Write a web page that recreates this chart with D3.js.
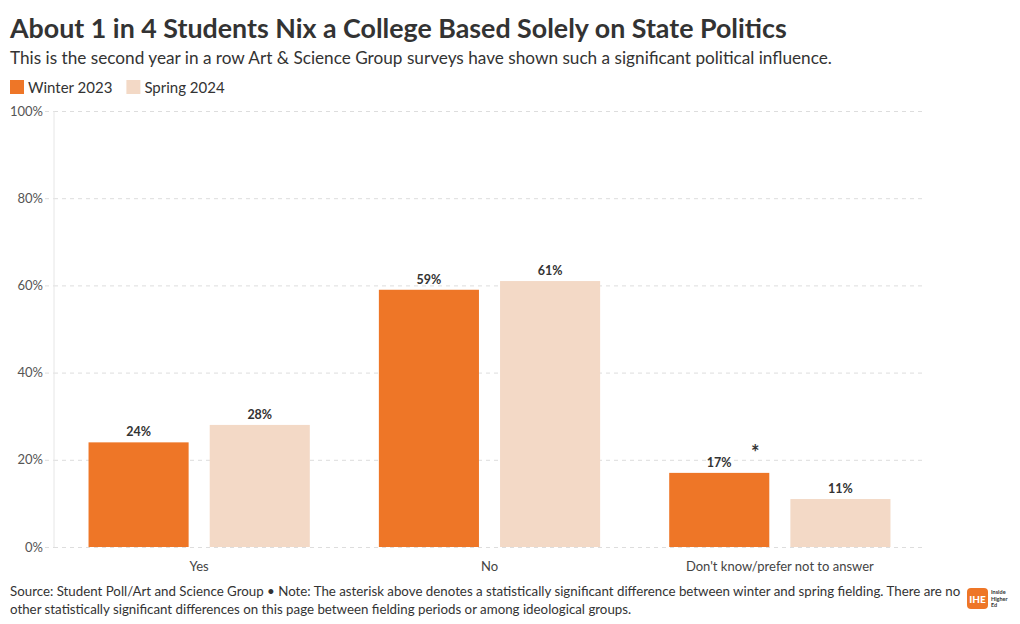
<!DOCTYPE html>
<html><head><meta charset="utf-8">
<script src="https://cdn.jsdelivr.net/npm/d3@7"></script>
<style>
body{margin:0;background:#fff;}
svg{font-family:Lato,"Noto Sans",sans-serif;}
</style></head>
<body><svg id="c" width="1020" height="624"></svg>
<script>
const categories = ["Yes", "No", "Don't know/prefer not to answer"];
const seriesNames = ["Winter 2023", "Spring 2024"];
const winter2023 = [24, 59, 17];
const spring2024 = [28, 61, 11];
const yTicks = [0, 20, 40, 60, 80, 100];
const significant = [false, false, true]; // asterisk on winter bar
const colors = ["#EE7627", "#F3D9C6"];

const svg = d3.select("#c");
const W = 1020, H = 624;
const m = {left: 54, right: 95, top: 111, bottom: 77};

const x0 = d3.scaleBand().domain(categories).range([m.left, W - m.right]).padding(0);
const x1 = d3.scaleBand().domain(seriesNames).range([0, x0.bandwidth()]).paddingInner(0.174).paddingOuter(0.285);
const y = d3.scaleLinear().domain([0, 100]).range([H - m.bottom, m.top]);

// title
svg.append("text").attr("x", 10).attr("y", 38).attr("font-size", 26.8).attr("font-weight", 700).attr("fill", "#333")
  .text("About 1 in 4 Students Nix a College Based Solely on State Politics");
svg.append("text").attr("x", 10).attr("y", 64).attr("font-size", 17.2).attr("fill", "#333")
  .text("This is the second year in a row Art & Science Group surveys have shown such a significant political influence.");

// legend
const leg = svg.append("g");
let lx = 10;
seriesNames.forEach((s, i) => {
  const g = leg.append("g").attr("transform", `translate(${lx},80)`);
  g.append("rect").attr("width", 14).attr("height", 14).attr("fill", colors[i]);
  const t = g.append("text").attr("x", 18).attr("y", 12.5).attr("font-size", 15).attr("fill", "#333").text(s);
  lx += 18 + t.node().getComputedTextLength() + 14;
});

// grid + y axis
const yAxis = svg.append("g").attr("transform", `translate(${m.left},0)`)
  .call(d3.axisLeft(y).tickValues(yTicks).tickFormat(d => d + "%").tickSize(-(W - m.right - m.left)).tickPadding(11));
yAxis.select(".domain").remove();
yAxis.selectAll(".tick line").attr("stroke", "#ddd").attr("stroke-dasharray", "4,4");
yAxis.selectAll(".tick text").attr("font-size", 13).attr("fill", "#555").attr("font-family", "Lato,sans-serif");
yAxis.selectAll(".tick").append("line").attr("x1", -9).attr("x2", 0).attr("stroke", "#ddd").attr("stroke-dasharray", "4,4");

// vertical axis line
svg.append("line").attr("x1", m.left).attr("x2", m.left).attr("y1", y(100)).attr("y2", y(0)).attr("stroke", "#e6e6e6");

// bars
const data = categories.map((c, i) => ({cat: c, vals: [winter2023[i], spring2024[i]], sig: significant[i]}));
const groups = svg.selectAll(".grp").data(data).join("g").attr("transform", d => `translate(${x0(d.cat)},0)`);
groups.selectAll("rect").data(d => d.vals.map((v, j) => ({s: seriesNames[j], v, j}))).join("rect")
  .attr("x", d => x1(d.s)).attr("width", x1.bandwidth())
  .attr("y", d => y(d.v)).attr("height", d => y(0) - y(d.v)).attr("fill", d => colors[d.j]);
groups.selectAll("text.val").data(d => d.vals.map((v, j) => ({s: seriesNames[j], v, j}))).join("text")
  .attr("class", "val").attr("x", d => x1(d.s) + x1.bandwidth() / 2).attr("y", d => y(d.v) - 6)
  .attr("text-anchor", "middle").attr("font-size", 12.5).attr("font-weight", 700).attr("fill", "#333")
  .text(d => d.v + "%");
groups.filter(d => d.sig).append("text")
  .attr("x", x1(seriesNames[0]) + x1.bandwidth() / 2 + 36).attr("y", d => y(d.vals[0]) - 13)
  .attr("text-anchor", "middle").attr("font-size", 20).attr("font-weight", 700).attr("fill", "#333").text("*");

// x labels
svg.append("g").selectAll("text").data(categories).join("text")
  .attr("x", d => x0(d) + x0.bandwidth() / 2).attr("y", y(0) + 24)
  .attr("text-anchor", "middle").attr("font-size", 13).attr("fill", "#444").text(d => d);

// footer
const foot = svg.append("text").attr("font-size", 13.3).attr("fill", "#333");
foot.append("tspan").attr("x", 10).attr("y", 596)
  .text("Source: Student Poll/Art and Science Group \u2022 Note: The asterisk above denotes a statistically significant difference between winter and spring fielding. There are no");
foot.append("tspan").attr("x", 10).attr("y", 614)
  .text("other statistically significant differences on this page between fielding periods or among ideological groups.");

// logo
const lg = svg.append("g").attr("transform", "translate(967,588)");
lg.append("rect").attr("width", 21).attr("height", 21).attr("rx", 4).attr("fill", "#EE7627");
lg.append("text").attr("x", 10.5).attr("y", 15).attr("text-anchor", "middle").attr("font-size", 10).attr("font-weight", 900).attr("fill", "#fff").text("IHE");
["Inside", "Higher", "Ed"].forEach((t, i) => lg.append("text").attr("x", 24).attr("y", 6 + i * 6.5).attr("font-size", 5.5).attr("font-weight", 700).attr("fill", "#333").text(t));
</script></body></html>
